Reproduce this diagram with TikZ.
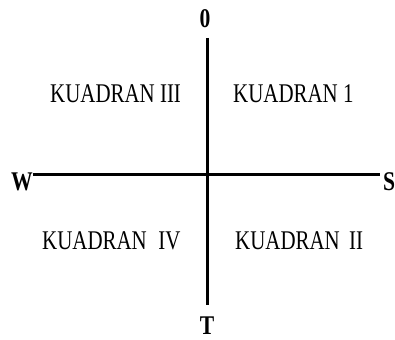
\documentclass[tikz,border=0pt]{standalone}
\usepackage{fontspec}
\setmainfont{Liberation Serif}
\begin{document}
\begin{tikzpicture}[x=1pt,y=1pt,
  axis/.style={line width=3pt},
  dirlabel/.style={inner sep=0pt,font=\fontsize{27}{30}\selectfont\bfseries},
  quad/.style={inner sep=0pt,anchor=base west,font=\fontsize{27}{30}\selectfont}]
\useasboundingbox (0,0) rectangle (395,339);
\node[dirlabel,anchor=base] (O) at (205,311) {\scalebox{0.8}[1]{0}};
\node[dirlabel,anchor=base] (T) at (207,5) {\scalebox{0.8}[1]{T}};
\node[dirlabel,anchor=base west] (W) at (11,148) {\scalebox{0.8}[1]{W}};
\node[dirlabel,anchor=base west] (S) at (383,148) {\scalebox{0.8}[1]{S}};
\coordinate (top) at (207,301);
\coordinate (bot) at (207,34);
\coordinate (left) at (33,164);
\coordinate (right) at (380,164);
\draw[axis] (top) -- (bot);
\draw[axis] (left) -- (right);
\node[quad] (q3) at (50,236) {\scalebox{0.775}[1]{KUADRAN III}};
\node[quad] (q1) at (233,236) {\scalebox{0.775}[1]{KUADRAN 1}};
\node[quad] (q4) at (42,89) {\scalebox{0.775}[1]{KUADRAN\hspace{0.3em} IV}};
\node[quad] (q2) at (235,89) {\scalebox{0.775}[1]{KUADRAN\hspace{0.2em} II}};
\end{tikzpicture}
\end{document}
